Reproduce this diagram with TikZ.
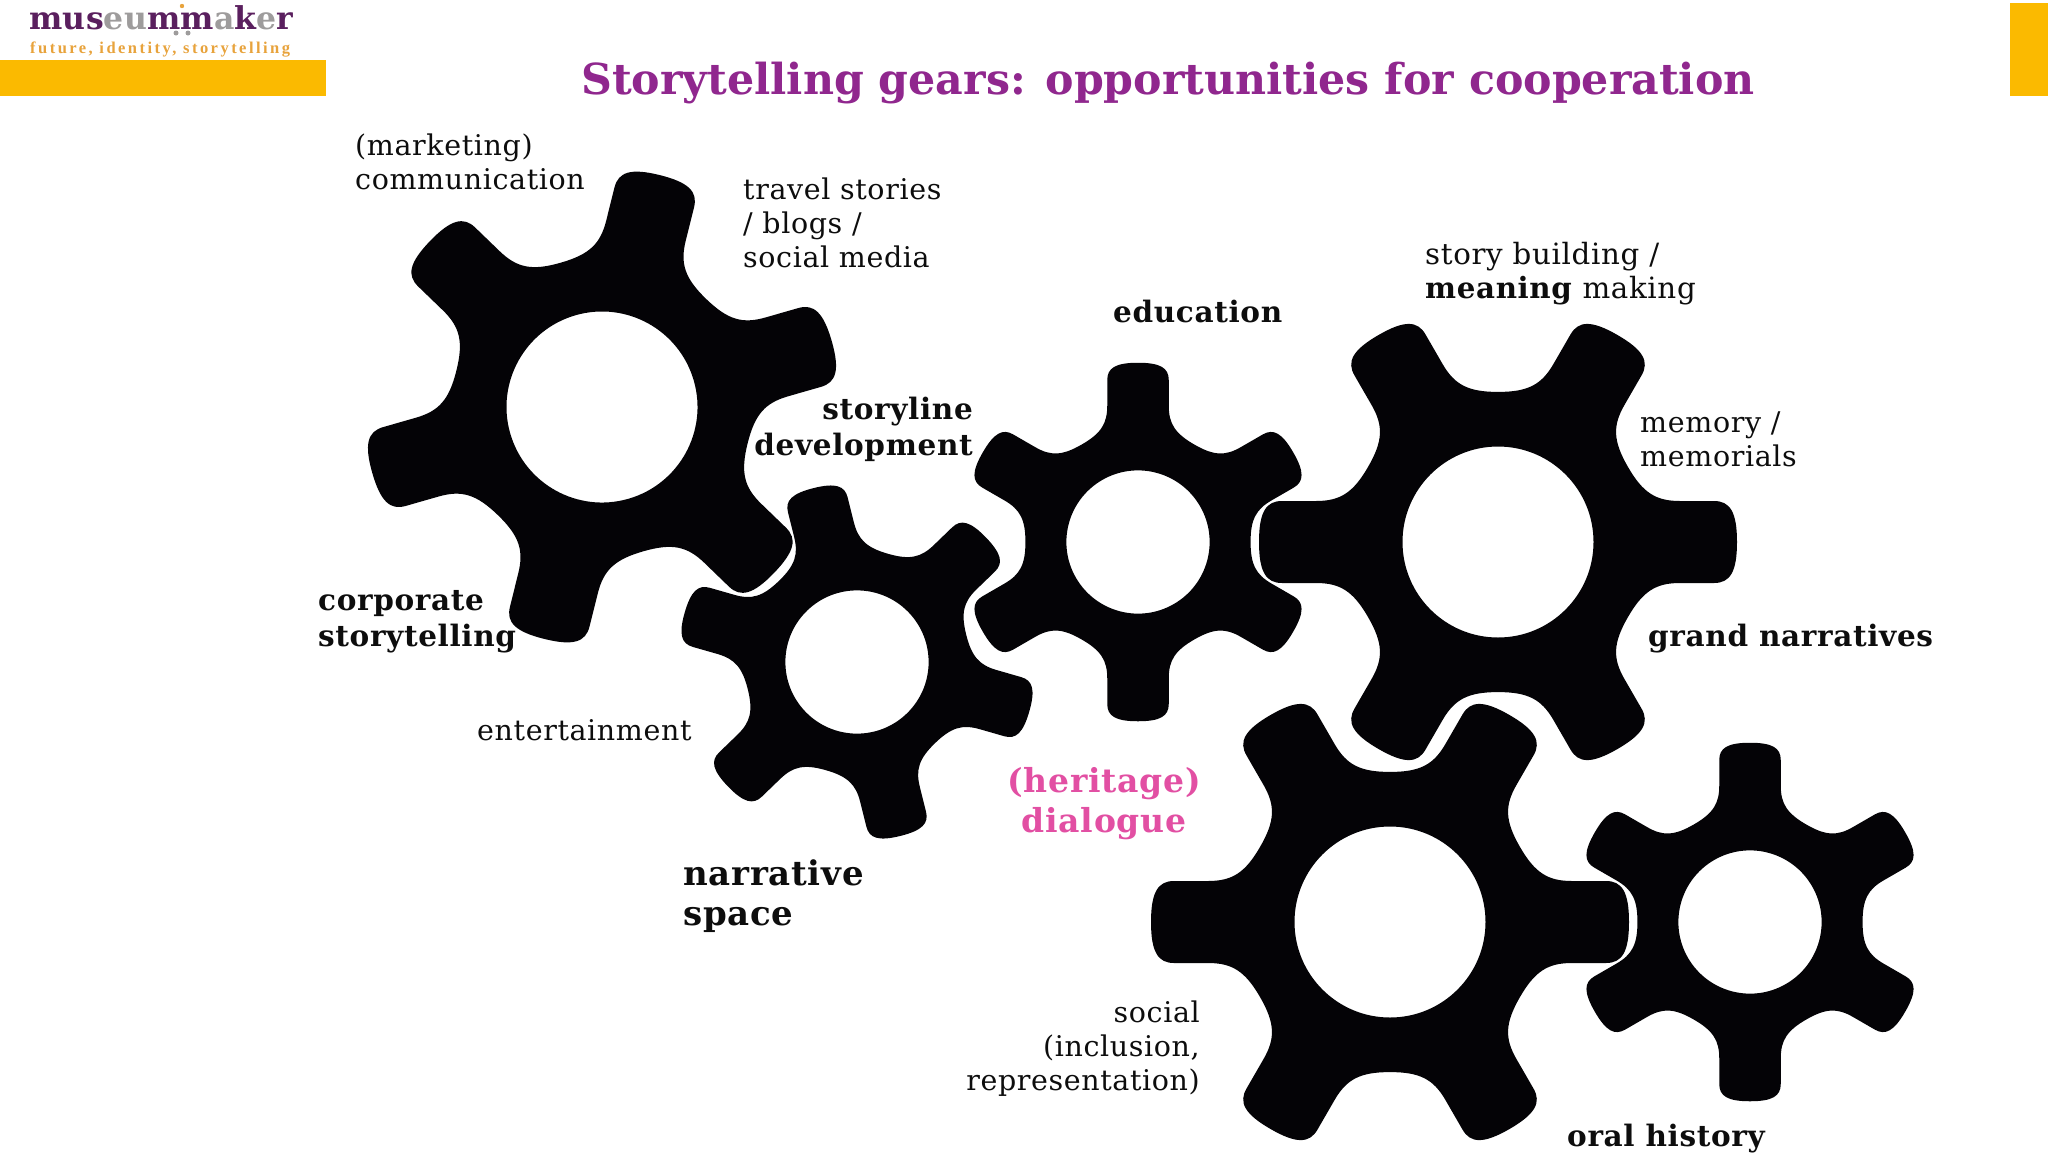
\documentclass[tikz,border=0pt]{standalone}
\usepackage{fontspec}
\setmainfont[LetterSpace=2.2]{DejaVu Serif}
\newfontfamily\logofont[LetterSpace=1.2]{DejaVu Serif}
\newfontfamily\titlefont{DejaVu Serif}
\newfontfamily\tagfont[LetterSpace=15]{Liberation Serif}
\definecolor{barc}{HTML}{FBBA00}
\definecolor{titlec}{HTML}{90278E}
\definecolor{pinkc}{HTML}{E24FA3}
\definecolor{logop}{HTML}{5A1F5E}
\definecolor{logog}{HTML}{9E9C9C}
\definecolor{logoo}{HTML}{E8A33C}
\definecolor{gearc}{HTML}{040306}
\tikzset{
  bar/.style={fill=barc,draw=none},
  lab/.style={inner sep=0pt,font=\fontsize{28.5}{34}\selectfont,text=black!95},
  blab/.style={lab,font=\fontsize{29.5}{36}\selectfont\bfseries},
  bigb/.style={lab,font=\fontsize{34}{40}\selectfont\bfseries},
  pinkb/.style={lab,font=\fontsize{33}{40}\selectfont\bfseries,text=pinkc},
}
\newcommand{\gear}[4]{%
  \begin{scope}[shift={(#1,#2)},x=1pt,y=1pt,rotate=#3,scale=#4]
  \fill[gearc,even odd rule] ([rotate=0]130,-75)
   \foreach \a in {0,60,...,300}{
    .. controls ([rotate=\a]145,-49) and ([rotate=\a]158,-41) .. ([rotate=\a]182,-41)
    -- ([rotate=\a]216,-41)
    .. controls ([rotate=\a]232,-41) and ([rotate=\a]239,-30) .. ([rotate=\a]239,0)
    .. controls ([rotate=\a]239,30) and ([rotate=\a]232,41) .. ([rotate=\a]216,41)
    -- ([rotate=\a]182,41)
    .. controls ([rotate=\a]158,41) and ([rotate=\a]145,49) .. ([rotate=\a]130,75)
   } -- cycle
   (0,0) circle[radius=95.5];
  \end{scope}}
\begin{document}
\begin{tikzpicture}[x=1pt,y=-1pt]
\useasboundingbox (0,0) rectangle (2048,1152);
\clip (0,0) rectangle (2048,1152);
\fill[white] (0,0) rectangle (2048,1152);
\fill[bar] (0,60) rectangle (326,96);
\fill[bar] (2010,3) rectangle (2048,96);
\node[anchor=base west,inner sep=0pt,font=\logofont\bfseries\fontsize{31.5}{32}\selectfont] (logo) at (29,29)
 {\textcolor{logop}{mus}\textcolor{logog}{eu}\textcolor{logop}{mm}\textcolor{logog}{a}\textcolor{logop}{k}\textcolor{logog}{e}\textcolor{logop}{r}};
\node[anchor=base west,inner sep=0pt,text=logoo,font=\tagfont\bfseries\fontsize{16.5}{17}\selectfont] (tag) at (30,53) {future, identity, storytelling};
\fill[logoo] (182,6) circle[radius=2.2];
\fill[logog] (176,33) circle[radius=2.5];
\fill[logog] (188,33) circle[radius=2.5];
\node[anchor=base west,inner sep=0pt,text=titlec,font=\titlefont\bfseries\fontsize{42.7}{43}\selectfont] (title) at (581,94) {Storytelling gears: opportunities for cooperation};
\gear{602}{407}{16}{1}
\gear{857}{662}{44}{.75}
\gear{1138}{542}{30}{.75}
\gear{1498}{542}{0}{1}
\gear{1390}{922}{0}{1}
\gear{1750}{922}{30}{.75}
\node[lab,anchor=north west,align=left] (mkt) at (355,134) {(marketing)\\communication};
\node[lab,anchor=north west,align=left] (trv) at (743,178) {travel stories\\/ blogs /\\social media};
\node[lab,font=\fontsize{29.3}{34}\selectfont,anchor=north west,align=left] (sto) at (1425,242) {story building /\\\textbf{meaning} making};
\node[blab,anchor=base west] (edu) at (1113,322) {education};
\node[blab,anchor=north east,align=right] (dev) at (973,397) {storyline\\development};
\node[lab,anchor=north west,align=left] (mem) at (1640,412) {memory /\\memorials};
\node[blab,anchor=north west,align=left] (cor) at (318,590) {corporate\\storytelling};
\node[blab,anchor=base west] (grd) at (1648,646) {grand narratives};
\node[lab,anchor=base west] (ent) at (477,740) {entertainment};
\node[pinkb,anchor=north,align=center] (her) at (1104,767) {(heritage)\\dialogue};
\node[bigb,anchor=north west,align=left] (nar) at (683,859) {narrative\\space};
\node[lab,anchor=north east,align=right] (soc) at (1200,1001) {social\\(inclusion,\\representation)};
\node[blab,anchor=base west] (oral) at (1567,1146) {oral history};
\end{tikzpicture}
\end{document}
